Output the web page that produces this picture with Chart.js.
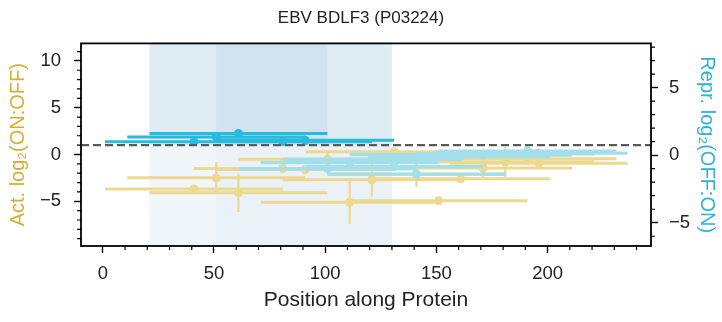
<!DOCTYPE html>
<html lang="en">
<head>
  <meta charset="UTF-8">
  <title>EBV BDLF3 (P03224)</title>
  <style>
    html, body { margin: 0; padding: 0; background: #fff; }
    #wrap { width: 722px; height: 322px; }
  </style>
  <script src="https://cdn.jsdelivr.net/npm/chart.js"></script>
</head>
<body>
  <div id="wrap"><canvas id="tileChart" width="722" height="322"></canvas></div>
  <script>
    // every tile is 80 aa long, positions are tile centres
    const tileLength = 80;

    // activation, left axis
    const actPos = [41, 51, 61, 81, 91, 101, 111, 121, 131, 141, 151, 161, 171, 181, 191, 196];
    const actVal = [-3.7, -2.5, -4.1, -1.5, -1.6, -0.5, -5.1, -2.7, 0.3, -2.1, -4.95, -2.6, -1.45, -0.8, -0.45, -0.95];
    const actErr = [0.2, 1.7, 2.05, 0.5, 0.35, 0.7, 2.3, 1.8, 0.3, 1.4, 0.3, 0.45, 1.0, 1.6, 0.2, 0.4];

    // repression hits, right axis
    const hitPos = [41, 51, 61, 81, 91];
    const hitVal = [1.0, 1.35, 1.6, 1.0, 1.1];
    const hitErr = [0.1, 0.15, 0.15, 0.1, 0.1];

    // repression, other tiles, right axis
    const repPos = [101, 111, 121, 131, 141, 151, 161, 171, 181, 191, 196];
    const repVal = [-1.0, -0.55, -0.3, -0.85, -1.4, 0.05, -0.1, 0.0, 0.1, 0.3, 0.15];
    const repErr = [0.15, 0.1, 0.1, 0.15, 0.3, 0.1, 0.1, 0.1, 0.1, 0.15, 0.1];

    const actThreshold = 1;
    const upperSpans = [[21, 130], [51, 101]];
    const lowerSpans = [[21, 130], [51, 130]];

    const xTicks = [0, 50, 100, 150, 200];
    const yTicks = [-5, 0, 5, 10];
    const y2Ticks = [-5, 0, 5];
    const xRange = [-9.8, 246.5];
    const yRange = [-9.78, 11.87];
    const y2Range = [-6.72, 8.27];

    const YELLOW = '#edd890';
    const LIGHT_CYAN = '#a3dfea';
    const CYAN = '#27bbdd';

    Chart.defaults.font.family = "'Liberation Sans', Arial, sans-serif";

    function hBars(pos, val) {
      const out = [];
      pos.forEach((p, i) => {
        out.push({ x: p - tileLength / 2, y: val[i] }, { x: p + tileLength / 2, y: val[i] }, { x: p, y: null });
      });
      return out;
    }
    function vBars(pos, val, err) {
      const out = [];
      pos.forEach((p, i) => {
        out.push({ x: p, y: val[i] - err[i] }, { x: p, y: val[i] + err[i] }, { x: p, y: null });
      });
      return out;
    }
    function points(pos, val) {
      return pos.map((p, i) => ({ x: p, y: val[i] }));
    }

    function series(pos, val, err, color, axis, order, width) {
      return [
        { data: hBars(pos, val), yAxisID: axis, borderColor: color, borderWidth: width, pointRadius: 0,
          spanGaps: false, borderCapStyle: 'butt', order: order + 2 },
        { data: vBars(pos, val, err), yAxisID: axis, borderColor: color, borderWidth: 2.2, pointRadius: 0,
          spanGaps: false, borderCapStyle: 'butt', order: order + 1 },
        { data: points(pos, val), yAxisID: axis, showLine: false, pointRadius: 4.5, pointBorderWidth: 0,
          pointBackgroundColor: color, borderColor: color, order: order }
      ];
    }

    function minus(v) {
      return v < 0 ? '\u2212' + Math.abs(v) : String(v);
    }

    const shadePlugin = {
      id: 'shade',
      beforeDatasetsDraw(chart) {
        const { ctx, chartArea: a, scales } = chart;
        const yDash = scales.y.getPixelForValue(actThreshold);
        ctx.save();
        ctx.beginPath();
        ctx.rect(a.left, a.top, a.right - a.left, a.bottom - a.top);
        ctx.clip();
        const upperAlpha = [0.14, 0.07];
        upperSpans.forEach((s, i) => {
          const x0 = scales.x.getPixelForValue(s[0]);
          const x1 = scales.x.getPixelForValue(s[1]);
          ctx.fillStyle = 'rgba(31,119,180,' + upperAlpha[i] + ')';
          ctx.fillRect(x0, a.top, x1 - x0, yDash - a.top);
        });
        const lowerAlpha = [0.062, 0.03];
        lowerSpans.forEach((s, i) => {
          const x0 = scales.x.getPixelForValue(s[0]);
          const x1 = scales.x.getPixelForValue(s[1]);
          ctx.fillStyle = 'rgba(31,119,180,' + lowerAlpha[i] + ')';
          ctx.fillRect(x0, yDash, x1 - x0, a.bottom - yDash);
        });
        ctx.restore();
      },
      afterDatasetsDraw(chart) {
        const { ctx, chartArea: a, scales } = chart;
        const yDash = scales.y.getPixelForValue(actThreshold);
        ctx.save();
        ctx.strokeStyle = '#5a5a5a';
        ctx.lineWidth = 2.2;
        ctx.setLineDash([8, 4]);
        ctx.beginPath();
        ctx.moveTo(a.left, yDash);
        ctx.lineTo(a.right, yDash);
        ctx.stroke();
        ctx.restore();
      }
    };

    const framePlugin = {
      id: 'frame',
      afterDraw(chart) {
        const { ctx, chartArea: a, scales } = chart;
        ctx.save();
        ctx.strokeStyle = '#000';
        ctx.lineWidth = 1.2;
        ctx.beginPath();
        for (let v = 0; v <= 240; v += 10) {
          if (xTicks.includes(v)) continue;
          const px = scales.x.getPixelForValue(v);
          ctx.moveTo(px, a.bottom);
          ctx.lineTo(px, a.bottom + 4);
        }
        for (let v = -9; v <= 11; v++) {
          if (yTicks.includes(v)) continue;
          const py = scales.y.getPixelForValue(v);
          ctx.moveTo(a.left, py);
          ctx.lineTo(a.left - 4, py);
        }
        for (let v = -6; v <= 8; v++) {
          if (y2Ticks.includes(v)) continue;
          const py = scales.y2.getPixelForValue(v);
          ctx.moveTo(a.right, py);
          ctx.lineTo(a.right + 4, py);
        }
        ctx.stroke();
        ctx.lineWidth = 1.8;
        ctx.strokeRect(a.left, a.top, a.right - a.left, a.bottom - a.top);
        ctx.restore();
      }
    };

    const tickGrid = { drawOnChartArea: false, tickLength: 7, tickWidth: 1.4, tickColor: '#000' };

    const tileChart = new Chart(document.getElementById('tileChart').getContext('2d'), {
      type: 'line',
      data: {
        datasets: [
          ...series(hitPos, hitVal, hitErr, CYAN, 'y2', 10, 3),
          ...series(repPos, repVal, repErr, LIGHT_CYAN, 'y2', 20, 3.4),
          ...series(actPos, actVal, actErr, YELLOW, 'y', 30, 3)
        ]
      },
      options: {
        responsive: false,
        animation: false,
        layout: { padding: 0 },
        plugins: {
          legend: { display: false },
          tooltip: { enabled: false },
          title: {
            display: true,
            text: 'EBV BDLF3 (P03224)',
            color: '#222',
            font: { size: 17, weight: 'normal' },
            padding: { top: 8, bottom: 15 }
          }
        },
        scales: {
          x: {
            type: 'linear',
            min: xRange[0], max: xRange[1],
            afterBuildTicks: s => { s.ticks = xTicks.map(v => ({ value: v })); },
            afterFit: s => { s.height = 76; },
            grid: tickGrid,
            border: { display: false },
            ticks: { padding: 10, color: '#222', font: { size: 18.5 }, maxRotation: 0, autoSkip: false, callback: minus },
            title: { display: true, text: 'Position along Protein', color: '#222', font: { size: 21 }, padding: { top: 0, bottom: 9 } }
          },
          y: {
            type: 'linear',
            position: 'left',
            min: yRange[0], max: yRange[1],
            afterBuildTicks: s => { s.ticks = yTicks.map(v => ({ value: v })); },
            afterFit: s => { s.width = 81; },
            grid: tickGrid,
            border: { display: false },
            ticks: { padding: 13, color: '#222', font: { size: 18.5 }, autoSkip: false, callback: minus },
            title: { display: true, text: 'Act. log\u2082(ON:OFF)', color: '#d4af37', font: { size: 20 }, padding: { top: 6, bottom: 0 } }
          },
          y2: {
            type: 'linear',
            position: 'right',
            min: y2Range[0], max: y2Range[1],
            afterBuildTicks: s => { s.ticks = y2Ticks.map(v => ({ value: v })); },
            afterFit: s => { s.width = 71; },
            grid: tickGrid,
            border: { display: false },
            ticks: { padding: 11, color: '#222', font: { size: 18.5 }, autoSkip: false, callback: minus },
            title: { display: true, text: 'Repr. log\u2082(OFF:ON)', color: '#2ab3d6', font: { size: 20 }, padding: { top: 3, bottom: 0 } }
          }
        }
      },
      plugins: [shadePlugin, framePlugin]
    });
  </script>
</body>
</html>
